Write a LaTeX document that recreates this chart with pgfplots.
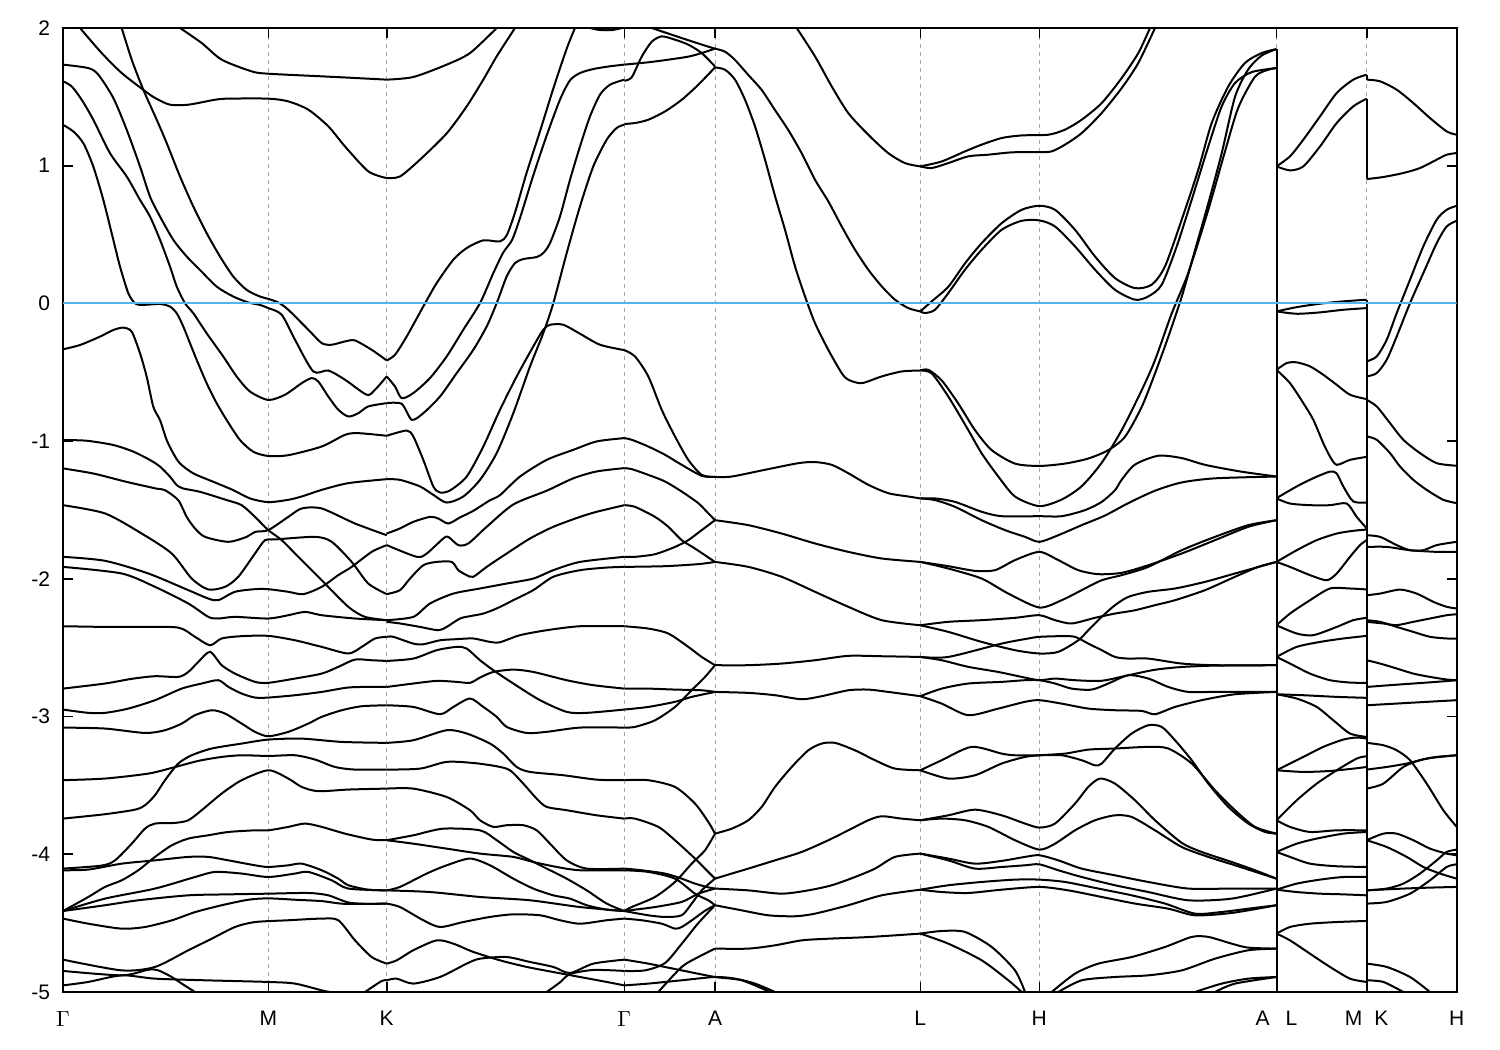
\documentclass[border=0pt]{standalone}
\usepackage{fontspec}
\setmainfont{Liberation Sans}
\usepackage{pgfplots}
\pgfplotsset{compat=1.18}
\definecolor{fermi}{RGB}{86,180,233}
\pgfplotsset{band/.style={black,line width=1pt,smooth,tension=0.45,mark=none}}
\newcommand{\B}[1]{\addplot[band] coordinates {#1};}
\begin{document}
\begin{tikzpicture}
\path[use as bounding box] (-31.5pt,-29pt) rectangle (718.5pt,496pt);
\begin{axis}[at={(0,0)},anchor=south west,scale only axis,width=696.85pt,height=482pt,
xmin=63,xmax=1456.7,ymin=-5,ymax=2,
xtick={63,268.3,386.7,624.3,715,920.3,1039.3,1276.5,1366.7,1456.7},
xticklabels={$\Gamma$,M,K,$\Gamma$,A,L,H,{A\hspace{8pt}L},{M\hspace{6pt}K},H},
ytick={-5,-4,-3,-2,-1,0,1,2},
yticklabels={-5,-4,-3,-2,-1,0,1,2},
tick align=inside, tick pos=both,
major tick length=5pt, tick style={black,line width=0.8pt},
xmajorgrids, major x grid style={gray!70,dash pattern=on 2pt off 2pt,line width=0.4pt},
axis line style={black,line width=1pt},
tick label style={font=\fontsize{10.5}{12}\selectfont},
yticklabel style={xshift=-3pt},
xticklabel style={yshift=-6pt},
clip=true]
% ---------- Gamma - M - K ----------
\B{(80,2.0)(101.7,1.818)(121.7,1.673)(145,1.542)(155,1.492)(170,1.443)(188.3,1.443)(215,1.479)(228.3,1.487)(268.3,1.487)(288.3,1.467)(308.3,1.407)(328.3,1.286)(345,1.14)(368.3,0.959)(386.7,0.91)}
\B{(180,2.0)(201.7,1.891)(221.7,1.77)(251.7,1.685)(268.3,1.668)(321.7,1.649)(355,1.637)(386.7,1.625)}
\B{(63,1.734)(88.3,1.709)(98.3,1.661)(113.3,1.492)(126.7,1.261)(140,0.995)(150,0.776)(160,0.631)(173.3,0.462)(186.7,0.341)(200,0.243)(216.7,0.122)(233.3,0.05)(248.3,0.007)(260,-0.011)(268.3,-0.034)(281.7,-0.082)(295,-0.264)(313.3,-0.494)(328.3,-0.487)(345,-0.554)(366.7,-0.663)(375,-0.627)(386.7,-0.53)}
\B{(121.7,2.0)(131.7,1.77)(143.3,1.552)(156.7,1.334)(166.7,1.164)(180,0.922)(193.3,0.704)(206.7,0.51)(220,0.341)(233.3,0.195)(246.7,0.098)(260,0.05)(268.3,0.033)(278.3,0.007)(288.3,-0.046)(308.3,-0.191)(321.7,-0.288)(331.7,-0.3)(345,-0.276)(355,-0.269)(371.7,-0.337)(386.7,-0.414)}
\B{(63,1.613)(71.7,1.576)(81.7,1.479)(93.3,1.334)(110,1.091)(126.7,0.922)(140,0.752)(150,0.631)(160,0.462)(170,0.268)(176.7,0.123)(185,0.001)(193.3,-0.071)(206.7,-0.217)(223.3,-0.386)(236.7,-0.531)(250,-0.64)(268.3,-0.701)(285,-0.663)(301.7,-0.579)(311.7,-0.542)(318.3,-0.567)(328.3,-0.676)(338.3,-0.772)(348.3,-0.821)(358.3,-0.797)(368.3,-0.748)(386.7,-0.724)}
\B{(63,1.297)(73.3,1.249)(83.3,1.164)(93.3,0.994)(103.3,0.752)(113.3,0.462)(120,0.268)(128.3,0.074)(135,0.001)(141.7,-0.011)(160,-0.004)(170,-0.023)(176.7,-0.071)(183.3,-0.168)(190,-0.289)(196.7,-0.41)(206.7,-0.58)(216.7,-0.725)(226.7,-0.847)(240,-0.992)(253.3,-1.077)(268.3,-1.108)(288.3,-1.102)(321.7,-1.039)(345,-0.954)(358.3,-0.942)(386.7,-0.961)}
\B{(63,-0.333)(80,-0.302)(100,-0.241)(113.3,-0.193)(123.3,-0.176)(131.7,-0.205)(140,-0.362)(146.7,-0.532)(153.3,-0.75)(160,-0.847)(166.7,-0.992)(173.3,-1.089)(180,-1.162)(193.3,-1.234)(213.3,-1.295)(233.3,-1.356)(250,-1.416)(268.3,-1.443)(288.3,-1.426)(301.7,-1.402)(321.7,-1.354)(348.3,-1.305)(386.7,-1.276)}
\B{(63,-0.992)(86.7,-0.997)(113.3,-1.028)(133.3,-1.076)(150,-1.137)(160,-1.185)(170,-1.258)(176.7,-1.319)(183.3,-1.344)(200,-1.368)(226.7,-1.428)(241.7,-1.465)(255,-1.55)(268.3,-1.646)(281.7,-1.719)(298.3,-1.84)(321.7,-2.01)(348.3,-2.203)(365,-2.276)(386.7,-2.30)}
\B{(63,-1.198)(93.3,-1.235)(126.7,-1.296)(156.7,-1.345)(165,-1.356)(178.3,-1.429)(186.7,-1.55)(195,-1.634)(205,-1.695)(228.3,-1.731)(246.7,-1.695)(255,-1.659)(268.3,-1.646)(288.3,-1.55)(301.7,-1.489)(321.7,-1.489)(355,-1.598)(386.7,-1.683)}
\B{(63,-1.465)(105,-1.525)(141.7,-1.671)(171.7,-1.816)(191.7,-1.998)(208.3,-2.077)(225,-2.058)(238.3,-1.985)(255,-1.816)(265,-1.719)(275,-1.714)(315,-1.695)(331.7,-1.731)(351.7,-1.877)(368.3,-2.034)(386.7,-2.111)}
\B{(63,-1.840)(105,-1.869)(148.3,-1.961)(188.3,-2.082)(208.3,-2.143)(218.3,-2.155)(235,-2.094)(255,-2.075)(268.3,-2.075)(288.3,-2.094)(303.3,-2.111)(321.7,-2.058)(338.3,-1.973)(351.7,-1.913)(371.7,-1.804)(386.7,-1.755)}
\B{(63,-1.913)(121.7,-1.961)(155,-2.058)(188.3,-2.179)(208.3,-2.276)(218.3,-2.288)(235,-2.276)(268.3,-2.288)(288.3,-2.264)(305,-2.240)(321.7,-2.264)(355,-2.288)(386.7,-2.30)}
\B{(63,-2.344)(105,-2.349)(138.3,-2.349)(178.3,-2.354)(195,-2.421)(210,-2.482)(221.7,-2.433)(241.7,-2.416)(268.3,-2.414)(295,-2.446)(321.7,-2.494)(348.3,-2.542)(361.7,-2.494)(375,-2.433)(386.7,-2.421)}
\B{(63,-2.797)(105,-2.760)(131.7,-2.726)(155,-2.707)(178.3,-2.712)(188.3,-2.676)(198.3,-2.603)(210,-2.530)(221.7,-2.627)(235,-2.688)(255,-2.748)(268.3,-2.755)(295,-2.724)(321.7,-2.688)(338.3,-2.639)(355,-2.586)(371.7,-2.591)(386.7,-2.596)}
\B{(63,-2.949)(88.3,-2.973)(105,-2.973)(128.3,-2.942)(155,-2.881)(181.7,-2.797)(201.7,-2.760)(218.3,-2.736)(228.3,-2.784)(241.7,-2.833)(255,-2.862)(268.3,-2.862)(295,-2.845)(321.7,-2.821)(348.3,-2.789)(375,-2.784)(386.7,-2.785)}
\B{(63,-3.080)(105,-3.087)(145,-3.119)(165,-3.099)(181.7,-3.051)(195,-2.990)(211.7,-2.954)(225,-2.978)(241.7,-3.051)(255,-3.111)(268.3,-3.143)(288.3,-3.111)(308.3,-3.051)(321.7,-3.002)(341.7,-2.954)(361.7,-2.925)(386.7,-2.918)}
\B{(63,-3.462)(105,-3.450)(148.3,-3.414)(173.3,-3.370)(198.3,-3.322)(221.7,-3.293)(241.7,-3.281)(268.3,-3.286)(295,-3.281)(315,-3.312)(335,-3.366)(355,-3.385)(386.7,-3.385)}
\B{(63,-3.741)(105,-3.709)(135,-3.676)(145,-3.644)(155,-3.571)(165,-3.462)(178.3,-3.341)(191.7,-3.281)(211.7,-3.232)(241.7,-3.196)(268.3,-3.167)(301.7,-3.160)(341.7,-3.184)(386.7,-3.191)}
\B{(63,-4.104)(101.7,-4.082)(115,-4.044)(131.7,-3.923)(145,-3.814)(155,-3.777)(175,-3.772)(188.3,-3.753)(201.7,-3.680)(221.7,-3.559)(241.7,-3.462)(268.3,-3.390)(288.3,-3.450)(301.7,-3.511)(318.3,-3.542)(348.3,-3.530)(386.7,-3.523)}
\B{(63,-4.116)(88.3,-4.111)(121.7,-4.068)(155,-4.044)(188.3,-4.019)(208.3,-4.019)(228.3,-4.044)(255,-4.080)(268.3,-4.092)(288.3,-4.080)(301.7,-4.068)(321.7,-4.116)(338.3,-4.177)(348.3,-4.225)(368.3,-4.257)(386.7,-4.262)}
\B{(63,-4.412)(88.3,-4.310)(105,-4.237)(121.7,-4.189)(138.3,-4.116)(155,-4.019)(171.7,-3.935)(188.3,-3.886)(208.3,-3.862)(228.3,-3.838)(255,-3.826)(268.3,-3.826)(288.3,-3.801)(305,-3.777)(321.7,-3.801)(345,-3.850)(371.7,-3.893)(386.7,-3.898)}
\B{(63,-4.412)(105,-4.322)(155,-4.249)(195,-4.165)(215,-4.128)(241.7,-4.140)(268.3,-4.165)(295,-4.140)(308.3,-4.128)(331.7,-4.189)(348.3,-4.249)(386.7,-4.262)}
\B{(63,-4.412)(105,-4.370)(138.3,-4.334)(188.3,-4.298)(228.3,-4.291)(268.3,-4.286)(308.3,-4.281)(328.3,-4.298)(348.3,-4.35)(368.3,-4.36)(386.7,-4.358)}
\B{(63,-4.467)(88.3,-4.504)(121.7,-4.540)(145,-4.528)(171.7,-4.480)(195,-4.42)(221.7,-4.37)(248.3,-4.33)(268.3,-4.32)(295,-4.33)(321.7,-4.34)(345,-4.36)(386.7,-4.358)}
\B{(63,-4.765)(121.7,-4.843)(155,-4.818)(188.3,-4.697)(211.7,-4.613)(235,-4.528)(255,-4.492)(288.3,-4.479)(321.7,-4.467)(338.3,-4.479)(355,-4.625)(371.7,-4.746)(386.7,-4.794)}
\B{(63,-4.847)(121.7,-4.879)(148.3,-4.838)(158.3,-4.843)(171.7,-4.891)(181.7,-4.939)(195,-5.0)}
\B{(63,-4.952)(88.3,-4.927)(121.7,-4.879)(155,-4.903)(205,-4.915)(268.3,-4.927)(295,-4.939)(321.7,-4.988)(330,-5.0)}
\B{(365,-5.0)(381.7,-4.92)(386.7,-4.915)}
% ---------- K - Gamma ----------
\B{(386.7,1.625)(413.3,1.644)(446.7,1.734)(470,1.818)(496.7,2.0)}
\B{(386.7,0.910)(400,0.922)(420,1.044)(446.7,1.235)(466.7,1.431)(483.3,1.625)(496.7,1.794)(515,2.0)}
\B{(386.7,-0.414)(395,-0.373)(406.7,-0.240)(423.3,-0.022)(436.7,0.148)(453.3,0.317)(466.7,0.402)(483.3,0.458)(500,0.450)(507,0.50)(515,0.66)(526.7,0.950)(540,1.25)(553.3,1.56)(566.7,1.85)(575,2.0)}
\B{(386.7,-0.530)(395,-0.603)(401.7,-0.688)(413.3,-0.651)(430,-0.542)(446.7,-0.385)(463.3,-0.191)(480,0.002)(493.3,0.220)(503.3,0.370)(512,0.46)(520,0.62)(533.3,0.93)(546.7,1.22)(560,1.48)(570,1.62)(580,1.673)(593.3,1.702)(610,1.722)(624.3,1.734)}
\B{(386.7,-0.724)(401.7,-0.729)(411.7,-0.845)(423.3,-0.797)(440,-0.676)(456.7,-0.506)(473.3,-0.337)(486.7,-0.167)(496.7,0.002)(506.7,0.196)(515,0.293)(523.3,0.322)(536.7,0.337)(543.3,0.366)(550,0.438)(560,0.632)(570,0.898)(580,1.140)(590,1.358)(600,1.516)(610,1.588)(624.3,1.625)}
\B{(386.7,-0.961)(406.7,-0.923)(413.3,-0.966)(423.3,-1.136)(433.3,-1.329)(440,-1.373)(450,-1.358)(466.7,-1.257)(483.3,-1.039)(500,-0.772)(516.7,-0.530)(533.3,-0.312)(543.3,-0.191)(550,-0.155)(563.3,-0.155)(580,-0.220)(600,-0.300)(624.3,-0.339)}
\B{(386.7,-1.276)(400,-1.281)(420,-1.329)(433.3,-1.390)(446.7,-1.446)(463.3,-1.402)(480,-1.281)(496.7,-1.087)(513.3,-0.797)(530,-0.458)(543.3,-0.215)(553.3,0.002)(566.7,0.366)(580,0.705)(593.3,0.995)(606.7,1.189)(616.7,1.274)(624.3,1.298)}
\B{(590,2.0)(600,1.985)(612,1.985)(622,2.0)}
\B{(386.7,-1.671)(400,-1.634)(413.3,-1.586)(430,-1.550)(438.3,-1.562)(448.3,-1.598)(460,-1.554)(473.3,-1.506)(490,-1.429)(500,-1.392)(520,-1.257)(546.7,-1.136)(573.3,-1.063)(596.7,-1.002)(624.3,-0.978)}
\B{(386.7,-1.755)(416.7,-1.840)(426.7,-1.816)(443.3,-1.707)(448.3,-1.695)(458.3,-1.755)(468.3,-1.743)(486.7,-1.622)(513.3,-1.46)(546.7,-1.36)(573.3,-1.27)(596.7,-1.22)(624.3,-1.196)}
\B{(386.7,-2.111)(400,-2.082)(410,-1.998)(423.3,-1.901)(436.7,-1.877)(451.7,-1.877)(458.3,-1.937)(466.7,-1.973)(473.3,-1.985)(486.7,-1.913)(506.7,-1.816)(530,-1.707)(553.3,-1.622)(580,-1.550)(596.7,-1.513)(624.3,-1.465)}
\B{(386.7,-2.30)(413.3,-2.276)(430,-2.179)(453.3,-2.107)(480,-2.070)(506.7,-2.034)(533.3,-1.998)(553.3,-1.937)(580,-1.877)(624.3,-1.840)}
\B{(386.7,-2.312)(400,-2.324)(420,-2.349)(438.3,-2.373)(446.7,-2.349)(460,-2.288)(470,-2.271)(483.3,-2.252)(496.7,-2.215)(513.3,-2.155)(533.3,-2.082)(553.3,-1.985)(580,-1.937)(606.7,-1.918)(624.3,-1.913)}
\B{(386.7,-2.421)(393.3,-2.421)(413.3,-2.470)(423.3,-2.475)(440,-2.446)(456.7,-2.438)(473.3,-2.433)(490,-2.458)(500,-2.460)(520,-2.409)(546.7,-2.373)(580,-2.344)(624.3,-2.344)}
\B{(386.7,-2.596)(413.3,-2.579)(436.7,-2.518)(456.7,-2.494)(466.7,-2.506)(480,-2.591)(493.3,-2.663)(513.3,-2.760)(540,-2.881)(566.7,-2.966)(586.7,-2.973)(624.3,-2.949)}
\B{(386.7,-2.785)(413.3,-2.760)(436.7,-2.741)(456.7,-2.748)(470,-2.755)(480,-2.717)(493.3,-2.676)(513.3,-2.659)(533.3,-2.676)(566.7,-2.736)(593.3,-2.772)(624.3,-2.797)}
\B{(386.7,-2.918)(413.3,-2.930)(440,-2.983)(453.3,-2.930)(470,-2.869)(483.3,-2.930)(496.7,-3.002)(506.7,-3.075)(526.7,-3.119)(546.7,-3.111)(580,-3.080)(624.3,-3.080)}
\B{(386.7,-3.191)(413.3,-3.172)(446.7,-3.099)(466.7,-3.123)(490,-3.196)(503.3,-3.269)(516.7,-3.366)(530,-3.402)(563.3,-3.426)(596.7,-3.458)(624.3,-3.462)}
\B{(386.7,-3.385)(420,-3.378)(446.7,-3.329)(473.3,-3.337)(496.7,-3.361)(510,-3.390)(523.3,-3.487)(536.7,-3.596)(546.7,-3.656)(566.7,-3.680)(596.7,-3.717)(624.3,-3.741)}
\B{(386.7,-3.523)(413.3,-3.523)(446.7,-3.584)(470,-3.680)(480,-3.753)(493.3,-3.801)(506.7,-3.789)(523.3,-3.789)(536.7,-3.826)(550,-3.923)(566.7,-4.044)(586.7,-4.104)(624.3,-4.104)}
\B{(386.7,-3.898)(413.3,-3.862)(443.3,-3.814)(480,-3.826)(496.7,-3.898)(513.3,-3.983)(526.7,-4.031)(546.7,-4.104)(566.7,-4.177)(586.7,-4.262)(606.7,-4.358)(624.3,-4.412)}
\B{(386.7,-3.898)(413.3,-3.923)(446.7,-3.959)(480,-3.995)(513.3,-4.019)(533.3,-4.056)(556.7,-4.092)(580,-4.116)(624.3,-4.116)}
\B{(386.7,-4.262)(400,-4.237)(426.7,-4.140)(446.7,-4.080)(470,-4.031)(490,-4.080)(513.3,-4.177)(533.3,-4.249)(553.3,-4.298)(570,-4.322)(586.7,-4.370)(606.7,-4.402)(624.3,-4.412)}
\B{(386.7,-4.262)(430,-4.274)(480,-4.310)(530,-4.334)(580,-4.383)(624.3,-4.412)}
\B{(386.7,-4.358)(400,-4.383)(423.3,-4.479)(440,-4.528)(463.3,-4.492)(490,-4.455)(513.3,-4.436)(540,-4.443)(560,-4.479)(580,-4.504)(606.7,-4.479)(624.3,-4.467)}
\B{(386.7,-4.794)(396.7,-4.770)(413.3,-4.697)(436.7,-4.625)(453.3,-4.649)(473.3,-4.709)(500,-4.770)(526.7,-4.818)(553.3,-4.855)(580,-4.891)(606.7,-4.927)(624.3,-4.952)}
\B{(386.7,-4.915)(396.7,-4.903)(413.3,-4.939)(440,-4.891)(466.7,-4.794)(480,-4.758)(506.7,-4.746)(530,-4.782)(553.3,-4.818)(570,-4.862)(593.3,-4.794)(624.3,-4.765)}
\B{(546.7,-5.0)(560,-4.93)(570,-4.87)(593.3,-4.84)(624.3,-4.847)}
% ---------- Gamma - A - L ----------
\B{(624.3,1.734)(648.3,1.751)(668.3,1.770)(688.3,1.792)(701.7,1.818)(715,1.850)}
\B{(651.7,2.0)(681.7,1.927)(705,1.872)(715,1.850)}
\B{(624.3,1.617)(631.7,1.642)(641.7,1.792)(651.7,1.9)(661.7,1.939)(675,1.915)(688.3,1.879)(701.7,1.818)(715,1.721)}
\B{(624.3,1.303)(635,1.310)(648.3,1.334)(665,1.394)(681.7,1.479)(698.3,1.588)(715,1.714)}
\B{(715,1.850)(725,1.828)(735,1.768)(748.3,1.659)(761.7,1.550)(775,1.404)(788.3,1.259)(801.7,1.090)(815,0.898)(828.3,0.741)(841.7,0.559)(855,0.390)(868.3,0.245)(881.7,0.124)(895,0.027)(908.3,-0.034)(920.3,-0.058)}
\B{(715,1.714)(725,1.697)(735,1.625)(745,1.479)(755,1.286)(765,1.044)(775,0.780)(785,0.535)(795,0.269)(805,0.051)(815,-0.143)(828.3,-0.337)(841.7,-0.506)(848.3,-0.554)(861.7,-0.579)(881.7,-0.530)(901.7,-0.494)(920.3,-0.487)}
\B{(796.7,2.0)(815,1.794)(831.7,1.576)(848.3,1.382)(868.3,1.225)(888.3,1.091)(905,1.019)(920.3,0.995)}
\B{(624.3,-0.339)(635,-0.385)(648.3,-0.530)(661.7,-0.772)(675,-0.966)(688.3,-1.136)(701.7,-1.245)(715,-1.260)}
\B{(715,-1.260)(731.7,-1.257)(765,-1.208)(798.3,-1.160)(815,-1.152)(831.7,-1.172)(848.3,-1.233)(868.3,-1.317)(888.3,-1.378)(908.3,-1.402)(920.3,-1.416)}
\B{(624.3,-0.978)(631.7,-0.990)(648.3,-1.039)(665,-1.099)(681.7,-1.172)(701.7,-1.252)(715,-1.260)}
\B{(624.3,-1.196)(631.7,-1.203)(648.3,-1.245)(665,-1.293)(681.7,-1.366)(698.3,-1.450)(705,-1.499)(715,-1.574)}
\B{(624.3,-1.465)(635,-1.477)(655,-1.550)(668.3,-1.622)(681.7,-1.719)(695,-1.780)(715,-1.877)}
\B{(624.3,-1.840)(635,-1.840)(655,-1.821)(675,-1.768)(688.3,-1.719)(701.7,-1.646)(715,-1.574)}
\B{(624.3,-1.913)(665,-1.908)(698.3,-1.893)(715,-1.877)}
\B{(715,-1.574)(748.3,-1.610)(781.7,-1.671)(815,-1.743)(848.3,-1.804)(881.7,-1.852)(920.3,-1.877)}
\B{(715,-1.877)(748.3,-1.913)(781.7,-1.985)(815,-2.094)(848.3,-2.203)(881.7,-2.300)(920.3,-2.337)}
\B{(624.3,-2.344)(648.3,-2.361)(668.3,-2.397)(688.3,-2.494)(701.7,-2.567)(715,-2.627)}
\B{(624.3,-3.080)(635,-3.075)(655,-3.027)(675,-2.930)(691.7,-2.808)(705,-2.712)(715,-2.627)}
\B{(624.3,-2.797)(648.3,-2.797)(675,-2.804)(701.7,-2.809)(715,-2.821)}
\B{(624.3,-2.949)(648.3,-2.930)(675,-2.893)(691.7,-2.857)(715,-2.821)}
\B{(715,-2.627)(748.3,-2.627)(781.7,-2.615)(815,-2.591)(848.3,-2.559)(881.7,-2.562)(920.3,-2.567)}
\B{(715,-2.821)(748.3,-2.828)(775,-2.845)(801.7,-2.874)(821.7,-2.852)(848.3,-2.809)(868.3,-2.804)(888.3,-2.821)(920.3,-2.852)}
\B{(624.3,-3.462)(648.3,-3.462)(675,-3.511)(695,-3.632)(708.3,-3.765)(715,-3.850)}
\B{(624.3,-3.741)(635,-3.741)(658.3,-3.801)(675,-3.898)(695,-4.031)(705,-4.104)(715,-4.177)}
\B{(624.3,-4.104)(641.7,-4.116)(665,-4.140)(681.7,-4.177)(695,-4.213)(708.3,-4.240)(715,-4.249)}
\B{(624.3,-4.116)(648.3,-4.128)(675,-4.177)(695,-4.286)(708.3,-4.334)(715,-4.370)}
\B{(624.3,-4.412)(631.7,-4.383)(655,-4.310)(675,-4.201)(691.7,-4.068)(705,-3.971)(715,-3.850)}
\B{(624.3,-4.412)(635,-4.402)(655,-4.383)(681.7,-4.346)(698.3,-4.286)(715,-4.249)}
\B{(624.3,-4.412)(648.3,-4.443)(665,-4.455)(681.7,-4.443)(691.7,-4.358)(701.7,-4.262)(715,-4.177)}
\B{(624.3,-4.467)(641.7,-4.479)(661.7,-4.504)(675,-4.540)(681.7,-4.528)(691.7,-4.480)(705,-4.41)(715,-4.37)}
\B{(715,-3.850)(731.7,-3.814)(748.3,-3.753)(761.7,-3.656)(775,-3.511)(791.7,-3.366)(808.3,-3.245)(821.7,-3.196)(835,-3.191)(855,-3.245)(875,-3.317)(895,-3.378)(920.3,-3.390)}
\B{(715,-4.177)(731.7,-4.140)(748.3,-4.104)(775,-4.044)(801.7,-3.983)(828.3,-3.898)(848.3,-3.826)(868.3,-3.753)(881.7,-3.724)(901.7,-3.741)(920.3,-3.753)}
\B{(715,-4.249)(748.3,-4.262)(781.7,-4.286)(808.3,-4.262)(831.7,-4.225)(855,-4.165)(875,-4.104)(895,-4.019)(920.3,-3.995)}
\B{(715,-4.370)(741.7,-4.407)(768.3,-4.443)(795,-4.450)(815,-4.431)(848.3,-4.370)(881.7,-4.298)(920.3,-4.257)}
\B{(715,-4.685)(748.3,-4.685)(775,-4.661)(801.7,-4.625)(828.3,-4.613)(868.3,-4.601)(920.3,-4.576)}
\B{(658.3,-5.0)(681.7,-4.818)(698.3,-4.746)(715,-4.685)}
\B{(624.3,-4.765)(648.3,-4.794)(681.7,-4.843)(715,-4.891)(741.7,-4.915)(770,-5.0)}
\B{(624.3,-4.847)(645,-4.843)(665,-4.79)(681.7,-4.65)(698.3,-4.50)(715,-4.37)}
\B{(624.3,-4.952)(648.3,-4.939)(681.7,-4.915)(715,-4.891)(735,-4.903)(755,-4.939)(775,-5.0)}
% ---------- L - H - A ----------
\B{(920.3,0.995)(931.7,0.983)(948.3,1.019)(968.3,1.068)(988.3,1.080)(1011.7,1.097)(1039.3,1.099)(1051.7,1.104)(1065,1.153)(1081.7,1.237)(1101.7,1.383)(1121.7,1.564)(1138.3,1.746)(1155,2.0)}
\B{(920.3,0.995)(941.7,1.031)(965,1.104)(981.7,1.153)(1001.7,1.201)(1021.7,1.220)(1048.3,1.225)(1065,1.262)(1081.7,1.334)(1101.7,1.455)(1121.7,1.637)(1138.3,1.818)(1150,2.0)}
\B{(920.3,-0.058)(931.7,0.015)(948.3,0.121)(965,0.291)(981.7,0.438)(1001.7,0.583)(1021.7,0.680)(1039.3,0.709)(1055,0.680)(1075,0.535)(1095,0.341)(1115,0.184)(1135,0.111)(1151.7,0.136)(1165,0.269)(1181.7,0.608)(1198.3,0.971)(1211.7,1.310)(1228.3,1.576)(1245,1.746)(1261.7,1.818)(1276.5,1.847)}
\B{(920.3,-0.058)(925,-0.070)(935,-0.046)(948.3,0.075)(965,0.245)(981.7,0.390)(1001.7,0.535)(1021.7,0.600)(1039.3,0.603)(1055,0.559)(1075,0.414)(1095,0.245)(1115,0.099)(1135,0.027)(1148.3,0.051)(1161.7,0.136)(1176.7,0.414)(1191.7,0.753)(1208.3,1.140)(1221.7,1.431)(1235,1.60)(1251.7,1.68)(1276.5,1.709)}
\B{(920.3,-0.487)(928.3,-0.482)(941.7,-0.559)(958.3,-0.727)(975,-0.920)(991.7,-1.065)(1015,-1.163)(1039.3,-1.180)(1065,-1.163)(1088.3,-1.126)(1108.3,-1.065)(1125,-0.968)(1141.7,-0.751)(1155,-0.508)(1168.3,-0.242)(1181.7,0.048)(1195,0.387)(1208.3,0.727)(1221.7,1.091)(1235,1.50)(1248.3,1.70)(1261.7,1.80)(1276.5,1.847)}
\B{(920.3,-0.487)(931.7,-0.508)(948.3,-0.676)(968.3,-0.920)(981.7,-1.089)(998.3,-1.257)(1015,-1.402)(1039.3,-1.472)(1061.7,-1.424)(1081.7,-1.327)(1101.7,-1.157)(1121.7,-0.920)(1141.7,-0.630)(1155,-0.412)(1171.7,-0.073)(1188.3,0.222)(1208.3,0.680)(1225,1.104)(1238.3,1.422)(1255,1.646)(1268.3,1.697)(1276.5,1.709)}
\B{(920.3,-1.416)(935,-1.416)(955,-1.441)(981.7,-1.513)(1001.7,-1.545)(1039.3,-1.545)(1061.7,-1.545)(1085,-1.501)(1101.7,-1.441)(1115,-1.356)(1121.7,-1.28)(1135,-1.17)(1158.3,-1.106)(1181.7,-1.123)(1205,-1.172)(1240,-1.22)(1276.5,-1.257)}
\B{(920.3,-1.416)(935,-1.428)(955,-1.477)(981.7,-1.574)(1005,-1.646)(1025,-1.695)(1039.3,-1.731)(1058.3,-1.683)(1081.7,-1.610)(1105,-1.54)(1128.3,-1.45)(1155,-1.36)(1181.7,-1.30)(1215,-1.27)(1276.5,-1.257)}
\B{(920.3,-1.877)(948.3,-1.908)(975,-1.942)(995,-1.937)(1015,-1.864)(1039.3,-1.804)(1058.3,-1.864)(1078.3,-1.937)(1098.3,-1.966)(1121.7,-1.956)(1148.3,-1.901)(1181.7,-1.816)(1215,-1.719)(1248.3,-1.622)(1276.5,-1.574)}
\B{(920.3,-1.877)(948.3,-1.925)(981.7,-1.998)(1008.3,-2.107)(1039.3,-2.208)(1061.7,-2.155)(1081.7,-2.082)(1101.7,-2.010)(1121.7,-1.973)(1148.3,-1.913)(1181.7,-1.792)(1215,-1.695)(1248.3,-1.610)(1276.5,-1.574)}
\B{(920.3,-2.337)(948.3,-2.312)(981.7,-2.300)(1015,-2.283)(1039.3,-2.264)(1055,-2.300)(1071.7,-2.324)(1095,-2.283)(1115,-2.252)(1135,-2.228)(1155,-2.191)(1175,-2.155)(1205,-2.082)(1235,-1.985)(1258.3,-1.913)(1276.5,-1.877)}
\B{(920.3,-2.337)(948.3,-2.385)(981.7,-2.458)(1015,-2.518)(1039.3,-2.542)(1058.3,-2.530)(1078.3,-2.446)(1088.3,-2.373)(1101.7,-2.276)(1115,-2.191)(1128.3,-2.131)(1148.3,-2.094)(1175,-2.070)(1205,-2.022)(1235,-1.961)(1276.5,-1.877)}
\B{(920.3,-2.567)(948.3,-2.567)(1001.7,-2.470)(1028.3,-2.433)(1039.3,-2.421)(1061.7,-2.416)(1075,-2.421)(1088.3,-2.470)(1101.7,-2.518)(1115,-2.567)(1128.3,-2.579)(1148.3,-2.579)(1181.7,-2.615)(1215,-2.627)(1276.5,-2.627)}
\B{(920.3,-2.567)(941.7,-2.591)(968.3,-2.639)(998.3,-2.676)(1021.7,-2.712)(1039.3,-2.736)(1055,-2.724)(1075,-2.736)(1101.7,-2.740)(1128.3,-2.70)(1155,-2.66)(1181.7,-2.64)(1215,-2.63)(1276.5,-2.627)}
\B{(920.3,-2.852)(941.7,-2.797)(968.3,-2.760)(1001.7,-2.748)(1025,-2.736)(1039.3,-2.736)(1055,-2.760)(1071.7,-2.797)(1091.7,-2.804)(1108.3,-2.760)(1128.3,-2.700)(1148.3,-2.724)(1168.3,-2.785)(1188.3,-2.821)(1215,-2.821)(1276.5,-2.821)}
\B{(920.3,-2.852)(941.7,-2.906)(968.3,-2.990)(998.3,-2.942)(1025,-2.893)(1039.3,-2.881)(1061.7,-2.906)(1088.3,-2.942)(1115,-2.954)(1141.7,-2.959)(1155,-2.983)(1175,-2.930)(1201.7,-2.881)(1235,-2.838)(1276.5,-2.821)}
\B{(920.3,-3.390)(941.7,-3.317)(971.7,-3.220)(1001.7,-3.269)(1015,-3.281)(1039.3,-3.281)(1061.7,-3.281)(1081.7,-3.317)(1095,-3.354)(1101.7,-3.341)(1115,-3.232)(1131.7,-3.123)(1148.3,-3.063)(1161.7,-3.075)(1175,-3.172)(1191.7,-3.317)(1208.3,-3.487)(1228.3,-3.656)(1248.3,-3.777)(1265,-3.838)(1276.5,-3.850)}
\B{(920.3,-3.390)(948.3,-3.450)(975,-3.426)(1001.7,-3.341)(1025,-3.293)(1039.3,-3.281)(1065,-3.269)(1088.3,-3.240)(1115,-3.232)(1148.3,-3.220)(1168.3,-3.232)(1191.7,-3.341)(1215,-3.535)(1235,-3.680)(1255,-3.801)(1276.5,-3.850)}
\B{(920.3,-3.753)(948.3,-3.717)(975,-3.676)(1001.7,-3.717)(1025,-3.777)(1039.3,-3.806)(1055,-3.777)(1075,-3.632)(1088.3,-3.511)(1100,-3.450)(1115,-3.487)(1135,-3.608)(1155,-3.753)(1181.7,-3.917)(1201.7,-3.983)(1231.7,-4.056)(1255,-4.116)(1276.5,-4.177)}
\B{(920.3,-3.753)(941.7,-3.741)(965,-3.753)(988.3,-3.801)(1015,-3.898)(1039.3,-3.966)(1055,-3.923)(1075,-3.826)(1095,-3.753)(1115,-3.717)(1131.7,-3.729)(1155,-3.826)(1181.7,-3.947)(1208.3,-4.019)(1235,-4.080)(1276.5,-4.177)}
\B{(920.3,-3.995)(948.3,-4.031)(975,-4.068)(1001.7,-4.048)(1025,-4.019)(1039.3,-4.007)(1058.3,-4.044)(1081.7,-4.104)(1115,-4.153)(1148.3,-4.201)(1188.3,-4.249)(1231.7,-4.249)(1276.5,-4.249)}
\B{(920.3,-3.995)(948.3,-4.044)(975,-4.104)(1001.7,-4.092)(1025,-4.080)(1039.3,-4.073)(1058.3,-4.116)(1081.7,-4.165)(1115,-4.225)(1148.3,-4.274)(1188.3,-4.334)(1231.7,-4.322)(1276.5,-4.249)}
\B{(920.3,-4.257)(948.3,-4.225)(981.7,-4.201)(1015,-4.184)(1039.3,-4.184)(1065,-4.201)(1098.3,-4.249)(1131.7,-4.298)(1165,-4.358)(1195,-4.431)(1221.7,-4.419)(1248.3,-4.395)(1276.5,-4.370)}
\B{(920.3,-4.257)(941.7,-4.274)(968.3,-4.281)(1001.7,-4.257)(1039.3,-4.237)(1068.3,-4.262)(1101.7,-4.310)(1135,-4.358)(1168.3,-4.395)(1195,-4.443)(1231.7,-4.426)(1276.5,-4.370)}
\B{(920.3,-4.576)(941.7,-4.557)(965,-4.564)(991.7,-4.673)(1015,-4.843)(1025,-5.0)}
\B{(920.3,-4.576)(948.3,-4.649)(981.7,-4.770)(1008.3,-4.915)(1021.7,-5.0)}
\B{(1051.7,-5.0)(1075,-4.867)(1098.3,-4.794)(1131.7,-4.746)(1165,-4.673)(1191.7,-4.600)(1208.3,-4.600)(1231.7,-4.649)(1248.3,-4.678)(1276.5,-4.685)}
\B{(1058.3,-5.0)(1081.7,-4.915)(1115,-4.891)(1148.3,-4.879)(1181.7,-4.843)(1215,-4.758)(1248.3,-4.697)(1276.5,-4.685)}
\B{(1195,-5.0)(1221.7,-4.939)(1248.3,-4.903)(1276.5,-4.891)}
\B{(1215,-5.0)(1235,-4.939)(1276.5,-4.891)}
% ---------- L - M ----------
\B{(1276.5,0.995)(1290,1.068)(1303.3,1.189)(1320,1.358)(1336.7,1.528)(1353.3,1.625)(1366.7,1.661)}
\B{(1276.5,0.995)(1290,0.966)(1303.3,0.995)(1320,1.140)(1336.7,1.310)(1353.3,1.431)(1366.7,1.487)}
\B{(1276.5,-0.058)(1296.7,-0.027)(1320,-0.002)(1343.3,0.015)(1366.7,0.027)}
\B{(1276.5,-0.058)(1296.7,-0.075)(1320,-0.065)(1343.3,-0.046)(1366.7,-0.034)}
\B{(1276.5,-0.482)(1286.7,-0.433)(1296.7,-0.428)(1310,-0.457)(1323.3,-0.518)(1336.7,-0.591)(1350,-0.663)(1366.7,-0.695)}
\B{(1276.5,-0.482)(1290,-0.579)(1303.3,-0.724)(1313.3,-0.845)(1323.3,-1.015)(1330,-1.112)(1336.7,-1.172)(1350,-1.136)(1366.7,-1.114)}
\B{(1276.5,-1.414)(1296.7,-1.329)(1313.3,-1.269)(1330,-1.221)(1336.7,-1.235)(1343.3,-1.329)(1353.3,-1.438)(1366.7,-1.445)}
\B{(1276.5,-1.416)(1290,-1.453)(1310,-1.465)(1330,-1.465)(1346.7,-1.453)(1356.7,-1.550)(1366.7,-1.634)}
\B{(1276.5,-1.877)(1296.7,-1.792)(1316.7,-1.719)(1336.7,-1.671)(1353.3,-1.651)(1366.7,-1.642)}
\B{(1276.5,-1.877)(1290,-1.913)(1310,-1.973)(1326.7,-2.010)(1336.7,-1.961)(1350,-1.840)(1360,-1.755)(1366.7,-1.719)}
\B{(1276.5,-2.337)(1290,-2.252)(1310,-2.155)(1330,-2.070)(1350,-2.070)(1366.7,-2.077)}
\B{(1276.5,-2.337)(1296.7,-2.397)(1313.3,-2.409)(1336.7,-2.349)(1353.3,-2.300)(1366.7,-2.283)}
\B{(1276.5,-2.567)(1296.7,-2.494)(1320,-2.458)(1343.3,-2.433)(1366.7,-2.414)}
\B{(1276.5,-2.567)(1290,-2.615)(1310,-2.688)(1330,-2.736)(1350,-2.753)(1366.7,-2.755)}
\B{(1276.5,-2.838)(1303.3,-2.845)(1336.7,-2.857)(1366.7,-2.864)}
\B{(1276.5,-2.838)(1296.7,-2.869)(1316.7,-2.930)(1333.3,-3.027)(1350,-3.123)(1366.7,-3.148)}
\B{(1276.5,-3.390)(1303.3,-3.293)(1323.3,-3.220)(1343.3,-3.167)(1356.7,-3.152)(1366.7,-3.160)}
\B{(1276.5,-3.390)(1303.3,-3.402)(1330,-3.395)(1353.3,-3.378)(1366.7,-3.366)}
\B{(1276.5,-3.753)(1296.7,-3.608)(1316.7,-3.487)(1336.7,-3.390)(1356.7,-3.305)(1366.7,-3.288)}
\B{(1276.5,-3.753)(1290,-3.801)(1310,-3.838)(1336.7,-3.826)(1366.7,-3.826)}
\B{(1276.5,-3.983)(1296.7,-3.923)(1316.7,-3.886)(1343.3,-3.850)(1366.7,-3.838)}
\B{(1276.5,-3.983)(1290,-4.019)(1310,-4.068)(1336.7,-4.087)(1366.7,-4.092)}
\B{(1276.5,-4.257)(1296.7,-4.213)(1320,-4.184)(1343.3,-4.165)(1366.7,-4.165)}
\B{(1276.5,-4.257)(1296.7,-4.274)(1320,-4.286)(1343.3,-4.291)(1366.7,-4.298)}
\B{(1276.5,-4.576)(1290,-4.528)(1310,-4.504)(1336.7,-4.492)(1366.7,-4.484)}
\B{(1276.5,-4.576)(1290,-4.625)(1310,-4.722)(1330,-4.818)(1350,-4.903)(1366.7,-4.927)}
% ---------- K - H ----------
\B{(1366.7,1.625)(1380,1.613)(1396.7,1.552)(1413.3,1.455)(1430,1.346)(1446.7,1.249)(1456.7,1.225)}
\B{(1366.7,0.903)(1383.3,0.918)(1403.3,0.947)(1420,0.983)(1436.7,1.044)(1446.7,1.080)(1456.7,1.092)}
\B{(1366.7,-0.421)(1376.7,-0.385)(1386.7,-0.264)(1396.7,-0.070)(1410,0.172)(1423.3,0.414)(1436.7,0.608)(1446.7,0.680)(1456.7,0.709)}
\B{(1366.7,-0.530)(1376.7,-0.506)(1386.7,-0.409)(1396.7,-0.240)(1410,0.002)(1423.3,0.220)(1436.7,0.438)(1446.7,0.559)(1456.7,0.600)}
\B{(1366.7,-0.70)(1376.7,-0.748)(1390,-0.869)(1403.3,-0.990)(1420,-1.087)(1436.7,-1.160)(1456.7,-1.179)}
\B{(1366.7,-0.966)(1376.7,-0.990)(1390,-1.087)(1400,-1.184)(1413.3,-1.281)(1426.7,-1.354)(1443.3,-1.426)(1456.7,-1.450)}
\B{(1366.7,-1.683)(1380,-1.695)(1396.7,-1.755)(1410,-1.792)(1423.3,-1.792)(1436.7,-1.755)(1456.7,-1.731)}
\B{(1366.7,-1.768)(1386.7,-1.768)(1410,-1.792)(1436.7,-1.804)(1456.7,-1.804)}
\B{(1366.7,-2.119)(1380,-2.107)(1400,-2.078)(1416.7,-2.107)(1433.3,-2.167)(1446.7,-2.203)(1456.7,-2.215)}
\B{(1366.7,-2.300)(1380,-2.312)(1396.7,-2.349)(1413.3,-2.385)(1430,-2.421)(1446.7,-2.433)(1456.7,-2.433)}
\B{(1366.7,-2.312)(1383.3,-2.324)(1396.7,-2.336)(1413.3,-2.312)(1430,-2.288)(1446.7,-2.264)(1456.7,-2.257)}
\B{(1366.7,-2.591)(1380,-2.615)(1396.7,-2.651)(1413.3,-2.688)(1430,-2.712)(1446.7,-2.731)(1456.7,-2.736)}
\B{(1366.7,-2.785)(1390,-2.772)(1413.3,-2.760)(1436.7,-2.748)(1456.7,-2.736)}
\B{(1366.7,-2.918)(1410,-2.900)(1456.7,-2.881)}
\B{(1366.7,-3.191)(1383.3,-3.208)(1396.7,-3.245)(1410,-3.317)(1426.7,-3.487)(1443.3,-3.680)(1456.7,-3.801)}
\B{(1366.7,-3.385)(1386.7,-3.366)(1406.7,-3.341)(1426.7,-3.305)(1446.7,-3.288)(1456.7,-3.281)}
\B{(1366.7,-3.523)(1383.3,-3.487)(1403.3,-3.366)(1420,-3.317)(1436.7,-3.293)(1456.7,-3.281)}
\B{(1366.7,-3.898)(1383.3,-3.850)(1396.7,-3.850)(1413.3,-3.898)(1430,-3.959)(1446.7,-3.995)(1456.7,-4.007)}
\B{(1366.7,-3.898)(1386.7,-3.947)(1406.7,-4.019)(1423.3,-4.092)(1440,-4.140)(1456.7,-4.177)}
\B{(1366.7,-4.262)(1386.7,-4.249)(1403.3,-4.213)(1420,-4.140)(1436.7,-4.044)(1446.7,-3.983)(1456.7,-3.966)}
\B{(1366.7,-4.262)(1403.3,-4.249)(1430,-4.242)(1456.7,-4.237)}
\B{(1366.7,-4.358)(1386.7,-4.346)(1410,-4.286)(1430,-4.189)(1446.7,-4.092)(1456.7,-4.073)}
\B{(1366.7,-4.794)(1386.7,-4.818)(1410,-4.891)(1430,-5.0)}
\B{(1366.7,-4.915)(1383.3,-4.927)(1403.3,-5.0)}
% ---------- discontinuities ----------
\addplot[black,line width=1pt] coordinates {(1276.5,-5)(1276.5,1.847)};
\addplot[black,line width=1pt] coordinates {(1366.7,1.661)(1366.7,1.625)};
\addplot[black,line width=1pt] coordinates {(1366.7,1.487)(1366.7,0.903)};
\addplot[black,line width=1pt] coordinates {(1366.7,0.027)(1366.7,-5)};
% ---------- Fermi level ----------
\addplot[fermi,line width=1pt] coordinates {(63,0)(1456.7,0)};
\end{axis}
\end{tikzpicture}
\end{document}
